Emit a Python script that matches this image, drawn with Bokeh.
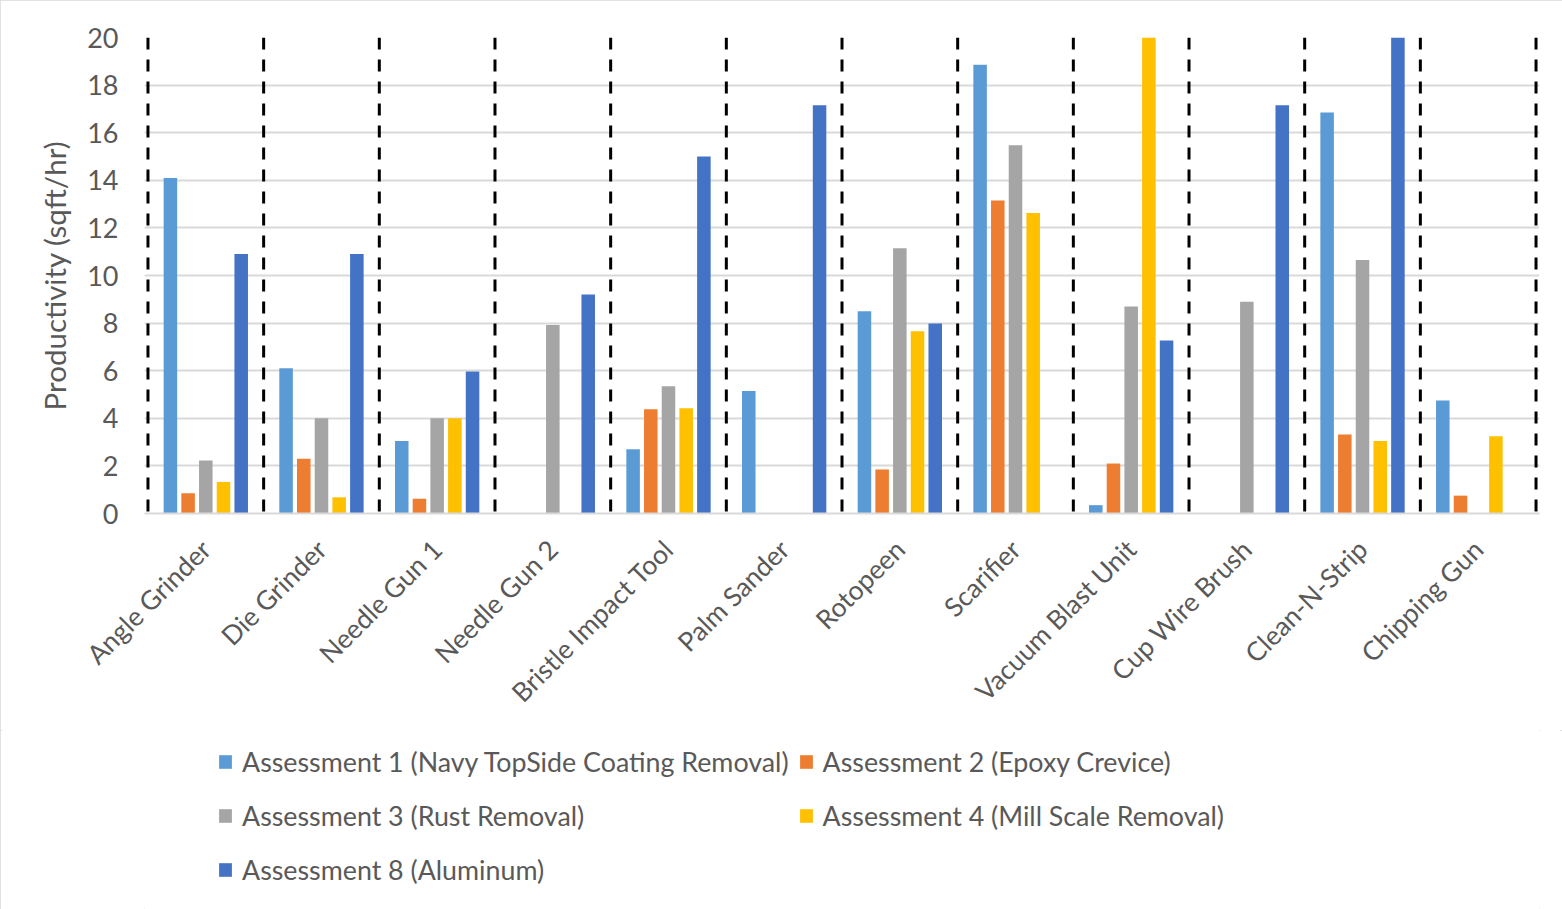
import math

from bokeh.embed import file_html
from bokeh.layouts import column
from bokeh.models import (ColumnDataSource, FactorRange, Legend, LegendItem,
                          Span, FixedTicker)
from bokeh.plotting import figure
from bokeh.resources import INLINE
from bokeh.transform import dodge

# Tools compared across the surface-preparation assessments
tools = ["Angle Grinder", "Die Grinder", "Needle Gun 1", "Needle Gun 2",
         "Bristle Impact Tool", "Palm Sander", "Rotopeen", "Scarifier",
         "Vacuum Blast Unit", "Cup Wire Brush", "Clean-N-Strip", "Chipping Gun"]

# Productivity in sqft/hr (0 where a tool was not assessed)
assess1 = [14.1, 6.1, 3.05, 0, 2.7, 5.15, 8.5, 18.85, 0.35, 0, 16.85, 4.75]
assess2 = [0.85, 2.3, 0.62, 0, 4.38, 0, 1.85, 13.15, 2.1, 0, 3.32, 0.75]
assess3 = [2.23, 4.0, 4.0, 7.92, 5.35, 0, 11.15, 15.47, 8.7, 8.9, 10.65, 0]
assess4 = [1.32, 0.68, 4.0, 0, 4.42, 0, 7.66, 12.63, 20.0, 0, 3.05, 3.25]
assess8 = [10.9, 10.9, 5.97, 9.2, 15.0, 17.15, 7.98, 0, 7.27, 17.15, 20.0, 0]

series_names = ["Assessment 1 (Navy TopSide Coating Removal)",
                "Assessment 2 (Epoxy Crevice)",
                "Assessment 3 (Rust Removal)",
                "Assessment 4 (Mill Scale Removal)",
                "Assessment 8 (Aluminum)"]
series_keys = ["a1", "a2", "a3", "a4", "a8"]
series_colors = ["#5B9BD5", "#ED7D31", "#A5A5A5", "#FFC000", "#4472C4"]

y_ticks = [0, 2, 4, 6, 8, 10, 12, 14, 16, 18, 20]

FONT = "Lato"
TEXT_COLOR = "#595959"
GRID_COLOR = "#d9d9d9"
WIDTH = 1562

source = ColumnDataSource(dict(tool=tools, a1=assess1, a2=assess2,
                               a3=assess3, a4=assess4, a8=assess8))

x_range = FactorRange(*tools, factor_padding=0,
                      range_padding=0.03, range_padding_units="absolute")

p = figure(x_range=x_range, y_range=(0, 20),
           width=WIDTH, height=730,
           min_border_left=144, min_border_right=23,
           min_border_top=37, min_border_bottom=217,
           output_backend="svg", toolbar_location=None,
           background_fill_color="white", border_fill_color="white",
           outline_line_color=None)

# Grouped bars: five series per tool
step = 0.153
bar_w = 0.117
for i, (key, color) in enumerate(zip(series_keys, series_colors)):
    p.vbar(x=dodge("tool", (i - 2) * step, range=p.x_range), top=key,
           width=bar_w, source=source, fill_color=color, line_color=None)

# Dashed separators between the tool groups
for k in range(len(tools) + 1):
    p.add_layout(Span(location=k, dimension="height", line_color="black",
                      line_width=3, line_dash="12 10"))

# Y axis
p.yaxis.ticker = FixedTicker(ticks=y_ticks)
p.yaxis.axis_line_color = None
p.yaxis.major_tick_line_color = None
p.yaxis.minor_tick_line_color = None
p.yaxis.major_tick_out = 0
p.yaxis.major_label_standoff = 26
p.yaxis.major_label_text_font = FONT
p.yaxis.major_label_text_font_size = "27px"
p.yaxis.major_label_text_color = TEXT_COLOR
p.yaxis.axis_label = "Productivity (sqft/hr)"
p.yaxis.axis_label_text_font = FONT
p.yaxis.axis_label_text_font_size = "29.5px"
p.yaxis.axis_label_text_font_style = "normal"
p.yaxis.axis_label_text_color = TEXT_COLOR
p.yaxis.axis_label_standoff = 12

# X axis: the zero line doubles as the axis line
p.xaxis.axis_line_color = GRID_COLOR
p.xaxis.axis_line_width = 2
p.xaxis.major_tick_line_color = None
p.xaxis.minor_tick_line_color = None
p.xaxis.major_tick_out = 0
p.xaxis.major_label_orientation = math.pi / 4
p.xaxis.major_label_standoff = 31
p.xaxis.major_label_text_font = FONT
p.xaxis.major_label_text_font_size = "26.5px"
p.xaxis.major_label_text_color = TEXT_COLOR

p.xgrid.grid_line_color = None
p.ygrid.grid_line_color = GRID_COLOR
p.ygrid.grid_line_width = 2

# Legend strip under the chart, keyed by the same series colours.
# The key glyphs sit outside the strip's visible range; only their
# legend swatches are drawn.
leg = figure(width=WIDTH, height=179, x_range=(0, 1), y_range=(0, 1),
             min_border=0, x_axis_location=None, y_axis_location=None,
             output_backend="svg", toolbar_location=None,
             background_fill_color="white", border_fill_color="white",
             outline_line_color=None)
leg.grid.visible = False
key_renderers = [leg.vbar(x=[5], top=[5], bottom=[4], width=0.1,
                          fill_color=c, line_color=None)
                 for c in series_colors]
items = [LegendItem(label=name, renderers=[r])
         for name, r in zip(series_names, key_renderers)]
legend = Legend(items=items, orientation="horizontal", ncols=2,
                location=(73, 17), margin=0, padding=0,
                border_line_color=None, background_fill_alpha=0,
                glyph_width=16, glyph_height=17, label_standoff=9,
                label_height=45, spacing=9,
                label_text_font=FONT, label_text_font_size="26.8px",
                label_text_color=TEXT_COLOR)
leg.add_layout(legend, "center")

layout = column(p, leg, spacing=0)
layout.styles = {"outline": "2px solid #d9d9d9", "outline-offset": "-2px"}

open("out.html", "w").write(file_html(layout, INLINE))
